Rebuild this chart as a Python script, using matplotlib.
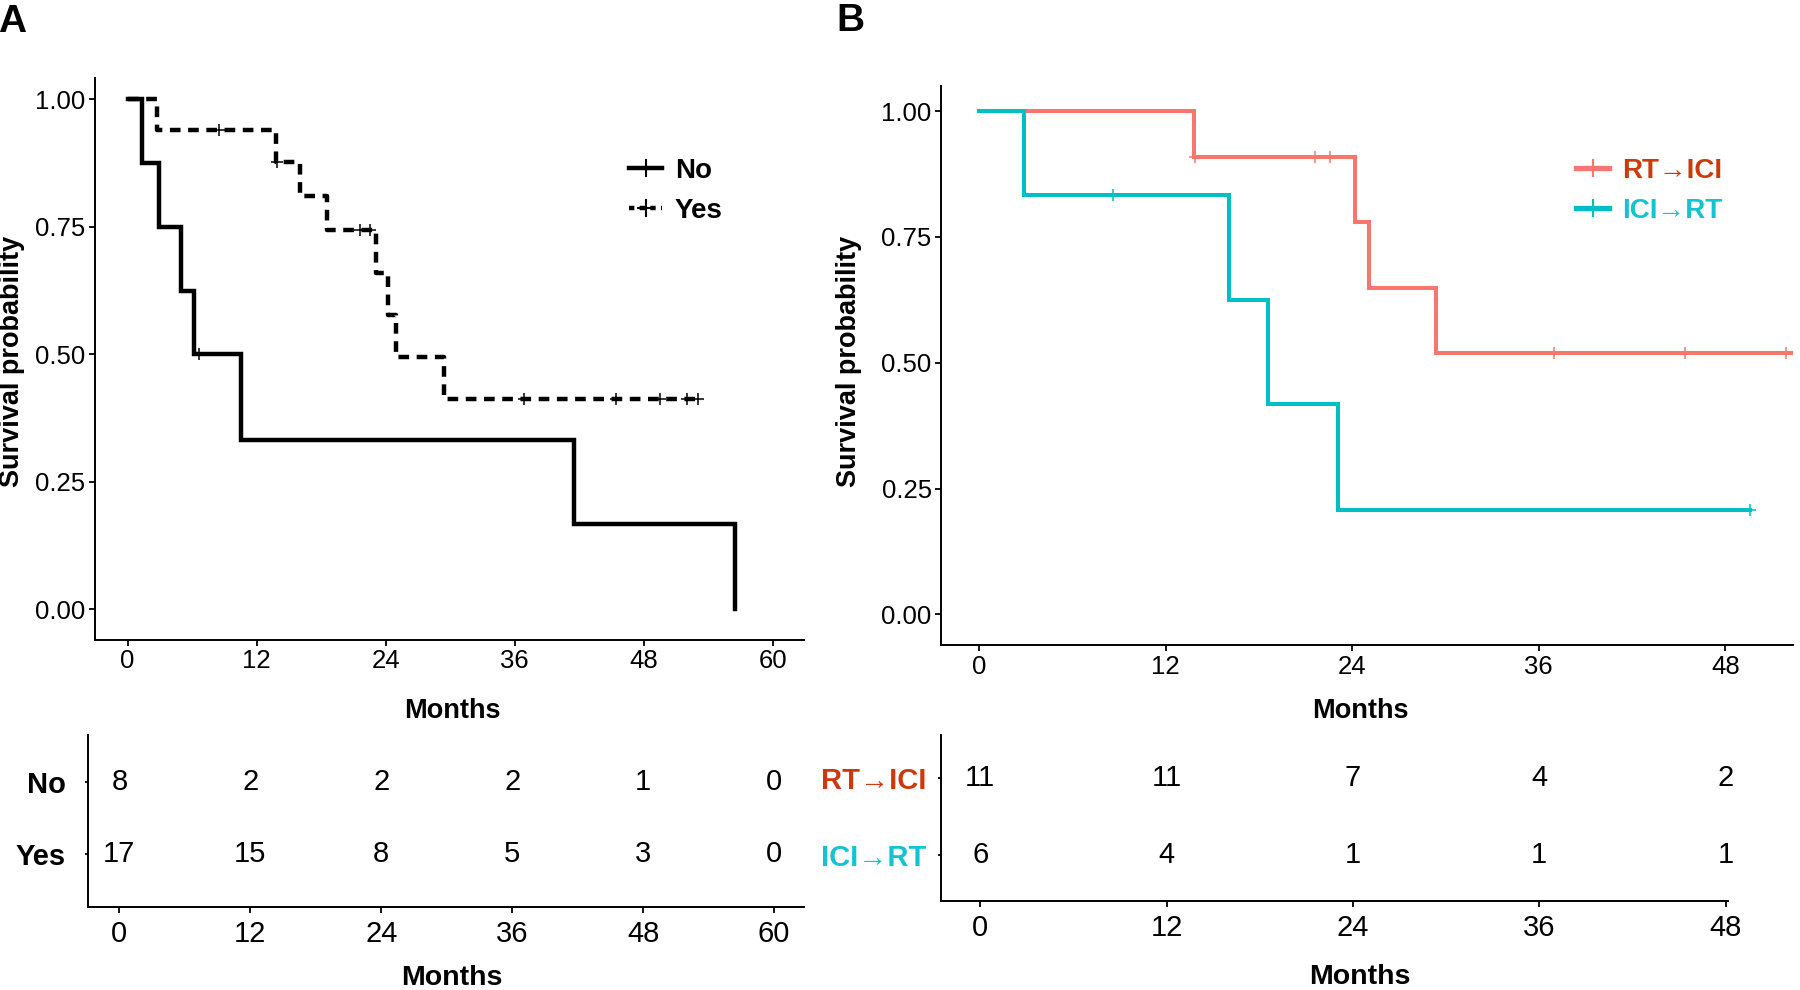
import numpy as np
import matplotlib
matplotlib.use("Agg")
import matplotlib.pyplot as plt
from matplotlib.lines import Line2D

plt.rcParams['font.family'] = ['Liberation Sans', 'DejaVu Sans']
NARROW = ['Liberation Sans Narrow', 'Liberation Sans', 'DejaVu Sans']

# ---- Panel A: KM steps (time of drop, survival after drop) ----
a_no_t = [0, 1.3, 2.9, 5.0, 6.2, 10.5, 41.5, 56.5]
a_no_s = [1.0, 0.875, 0.75, 0.625, 0.5, 0.333, 0.167, 0.0]
a_no_cens = [6.6]
a_no_end = 56.5

a_yes_t = [0, 2.75, 13.8, 16.0, 18.5, 23.1, 24.2, 25.0, 29.4]
a_yes_s = [1.0, 0.941, 0.878, 0.811, 0.743, 0.660, 0.578, 0.495, 0.413]
a_yes_cens = [8.5, 13.9, 21.6, 22.5, 36.9, 45.4, 49.5, 52.0, 53.0]
a_yes_end = 53.0

# ---- Panel B ----
b_rt_t = [0, 13.8, 24.2, 25.1, 29.4]
b_rt_s = [1.0, 0.909, 0.779, 0.649, 0.519]
b_rt_cens = [13.9, 21.6, 22.6, 37.0, 45.4, 51.9, 52.8]
b_rt_end = 52.8

b_ici_t = [0, 2.9, 16.1, 18.6, 23.1]
b_ici_s = [1.0, 0.833, 0.625, 0.417, 0.208]
b_ici_cens = [8.6, 49.6]
b_ici_end = 49.6

# ---- risk tables ----
a_risk_times = [0, 12, 24, 36, 48, 60]
a_risk_no = [8, 2, 2, 2, 1, 0]
a_risk_yes = [17, 15, 8, 5, 3, 0]

b_risk_times = [0, 12, 24, 36, 48]
b_risk_rt = [11, 11, 7, 4, 2]
b_risk_ici = [6, 4, 1, 1, 1]

RT_LINE = '#F8766D'
ICI_LINE = '#00BFC4'
RT_TEXT = '#CC3A0C'
ICI_TEXT = '#12C3D2'

W, H = 1800, 990


def box(left, right, top, bottom):
    return [left / W, (H - bottom) / H, (right - left) / W, (bottom - top) / H]


def km(ax, t, s, cens, end, color, ls='-', lw=3.2):
    x = list(t) + [end]
    y = list(s) + [s[-1]]
    ax.step(x, y, where='post', color=color, lw=lw, linestyle=ls,
            solid_joinstyle='miter', dash_capstyle='butt')
    t_arr = np.array(t)
    cy = [s[np.searchsorted(t_arr, c, side='right') - 1] for c in cens]
    ax.plot(cens, cy, linestyle='none', marker='+', ms=9, mew=1.1, color=color)


def style_axes(ax):
    for sp in ['top', 'right']:
        ax.spines[sp].set_visible(False)
    for sp in ['left', 'bottom']:
        ax.spines[sp].set_linewidth(1.4)
    ax.tick_params(axis='both', length=4, width=1.3, labelsize=18.5, pad=3)


fig = plt.figure(figsize=(18, 9.9), dpi=100)

# ---------------- Panel A ----------------
axA = fig.add_axes(box(95.3, 803.6, 78, 639.5))
km(axA, a_no_t, a_no_s, a_no_cens, a_no_end, 'black')
km(axA, a_yes_t, a_yes_s, a_yes_cens, a_yes_end, 'black', ls=(0, (2.4, 1.7)))
axA.set_xlim(-3.0, 62.85)
axA.set_ylim(-0.059, 1.042)
axA.set_xticks(a_risk_times)
axA.set_yticks([0, 0.25, 0.5, 0.75, 1.0])
axA.set_yticklabels(['0.00', '0.25', '0.50', '0.75', '1.00'])
style_axes(axA)
axA.set_xlabel('Months', fontsize=19.5, fontweight='bold')
axA.set_ylabel('Survival probability', fontsize=19.5, fontweight='bold')
axA.xaxis.label.set_verticalalignment('center')
axA.xaxis.set_label_coords(0.504, -0.127)
axA.yaxis.label.set_verticalalignment('center')
axA.yaxis.set_label_coords(-0.118, 0.495)
hA = [Line2D([], [], color='black', lw=3.2, marker='+', ms=13, mew=1.5),
      Line2D([], [], color='black', lw=3.2, ls=(0, (1.2, 1.2)), marker='+', ms=13, mew=1.5)]
legA = axA.legend(hA, ['No', 'Yes'], loc='upper left', bbox_to_anchor=((629 - 95.3) / 708.3, 1 - (158 - 78) / 561.5),
                  frameon=False, handlelength=1.2, handletextpad=0.45, labelspacing=0.5,
                  borderpad=0, borderaxespad=0, prop={'size': 20, 'weight': 'bold'})

# ---------------- Panel B ----------------
axB = fig.add_axes(box(941.4, 1793, 86, 645))
km(axB, b_rt_t, b_rt_s, b_rt_cens, b_rt_end, RT_LINE, lw=2.9)
km(axB, b_ici_t, b_ici_s, b_ici_cens, b_ici_end, ICI_LINE, lw=2.9)
axB.set_xlim(-2.42, 52.35)
axB.set_ylim(-0.061, 1.05)
axB.set_xticks(b_risk_times)
axB.set_yticks([0, 0.25, 0.5, 0.75, 1.0])
axB.set_yticklabels(['0.00', '0.25', '0.50', '0.75', '1.00'])
style_axes(axB)
axB.set_xlabel('Months', fontsize=19.5, fontweight='bold')
axB.set_ylabel('Survival probability', fontsize=19.5, fontweight='bold')
axB.xaxis.label.set_verticalalignment('center')
axB.xaxis.set_label_coords(0.4916, -0.118)
axB.yaxis.label.set_verticalalignment('center')
axB.yaxis.set_label_coords(-0.108, 0.507)
hB = [Line2D([], [], color=RT_LINE, lw=3.8, marker='+', ms=13, mew=1.5),
      Line2D([], [], color=ICI_LINE, lw=3.8, marker='+', ms=13, mew=1.5)]
legB = axB.legend(hB, ['RT→ICI', 'ICI→RT'], loc='upper left',
                  bbox_to_anchor=((1576 - 941.4) / 851.6, 1 - (158 - 86) / 559),
                  frameon=False, handlelength=1.2, handletextpad=0.45, labelspacing=0.5,
                  borderpad=0, borderaxespad=0, prop={'size': 20, 'weight': 'bold'})
for txt, c in zip(legB.get_texts(), [RT_TEXT, ICI_TEXT]):
    txt.set_color(c)


# ---------------- risk tables ----------------
def risk_table(ax, times, rows, labels, label_colors, xlim, ylim, xlab_x, xlab_y, ypad):
    for yv, counts in zip([2, 1], rows):
        for t, n in zip(times, counts):
            ax.text(t, yv, str(n), ha='center', va='center', fontsize=21, family=NARROW)
    ax.set_xlim(*xlim)
    ax.set_ylim(*ylim)
    ax.set_xticks(times)
    ax.set_yticks([2, 1])
    ax.set_yticklabels(labels)
    for sp in ['top', 'right']:
        ax.spines[sp].set_visible(False)
    for sp in ['left', 'bottom']:
        ax.spines[sp].set_linewidth(1.4)
    ax.tick_params(axis='x', length=4, width=1.3, labelsize=21, pad=5)
    ax.tick_params(axis='y', length=2.5, width=1.3, labelsize=21, pad=ypad)
    for lab in ax.get_xticklabels():
        lab.set_fontfamily(NARROW)
    for lab, c in zip(ax.get_yticklabels(), label_colors):
        lab.set_fontfamily(NARROW)
        lab.set_fontweight('bold')
        lab.set_color(c)
    ax.set_xlabel('Months', fontsize=20.5, fontweight='bold', family=NARROW)
    ax.xaxis.label.set_verticalalignment('center')
    ax.xaxis.set_label_coords(xlab_x, xlab_y)


rtA = fig.add_axes(box(88.4, 803.6, 735, 907))
risk_table(rtA, a_risk_times, [a_risk_no, a_risk_yes], ['No', 'Yes'], ['black', 'black'],
           (-2.84, 62.7), (0.265, 2.652), 0.508, -0.41, 14)

rtB = fig.add_axes(box(941.4, 1728, 735, 901))
risk_table(rtB, b_risk_times, [b_risk_rt, b_risk_ici], ['RT→ICI', 'ICI→RT'], [RT_TEXT, ICI_TEXT],
           (-2.5, 48.15), (0.403, 2.558), 0.532, -0.46, 8)

# panel letters
fig.text(12.5 / W, 1 - 22 / H, 'A', fontsize=28, fontweight='bold', ha='center', va='center')
fig.text(850 / W, 1 - 21 / H, 'B', fontsize=28, fontweight='bold', ha='center', va='center')

fig.savefig('out.png', dpi=100)
